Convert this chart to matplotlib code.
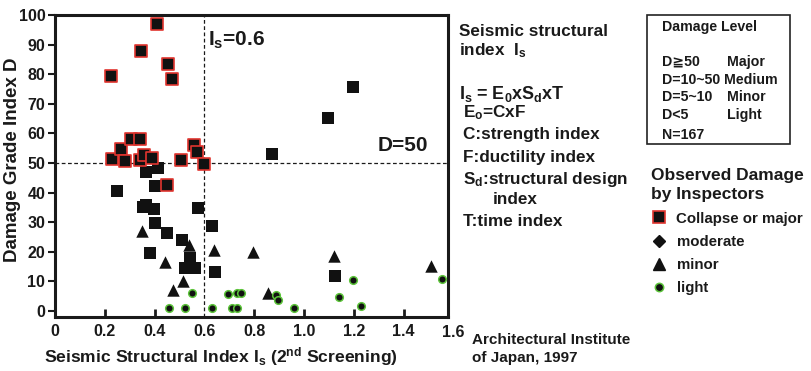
import matplotlib
matplotlib.use("Agg")
import matplotlib.pyplot as plt
from matplotlib.lines import Line2D
from matplotlib.patches import Rectangle

plt.rcParams['font.family'] = ['Liberation Sans', 'DejaVu Sans']
plt.rcParams['font.weight'] = 'bold'
plt.rcParams['mathtext.fontset'] = 'custom'
plt.rcParams['mathtext.rm'] = 'Liberation Sans:bold'
plt.rcParams['mathtext.it'] = 'Liberation Sans:bold'
plt.rcParams['mathtext.bf'] = 'Liberation Sans:bold'

####  dati  ####
# collapse or major (quadrati bordo rosso)
collapse_x = [0.225, 0.408, 0.344, 0.455, 0.469, 0.228, 0.264, 0.281, 0.304, 0.341,
              0.341, 0.357, 0.388, 0.504, 0.560, 0.572, 0.597, 0.451]
collapse_y = [79.4, 96.9, 87.8, 83.4, 78.4, 51.4, 54.7, 50.7, 58.1, 58.1,
              51.0, 52.7, 51.8, 51.0, 56.1, 53.6, 49.6, 42.6]
# moderate (quadrati neri)
moderate_x = [0.365, 0.412, 0.402, 0.250, 0.352, 0.366, 0.396, 0.575, 0.402, 0.451,
              0.509, 0.382, 0.542, 0.522, 0.562, 0.629, 0.643, 1.124, 1.196, 1.095, 0.870]
moderate_y = [47.1, 48.4, 42.3, 40.6, 35.0, 35.8, 34.6, 34.8, 29.6, 26.5,
              24.0, 19.5, 17.9, 14.6, 14.4, 28.8, 13.3, 11.9, 75.8, 65.1, 52.9]
# minor (triangoli)
minor_x = [0.351, 0.538, 0.442, 0.515, 0.472, 0.637, 0.797, 0.857, 1.122, 1.509]
minor_y = [27.0, 22.2, 16.5, 10.1, 7.0, 20.6, 20.0, 6.0, 18.7, 15.3]
# light (cerchi bordo verde)
light_x = [0.458, 0.522, 0.549, 0.629, 0.696, 0.709, 0.730, 0.732, 0.746, 0.888,
           0.894, 0.961, 1.141, 1.198, 1.229, 1.553]
light_y = [1.2, 0.9, 6.0, 1.2, 5.6, 0.9, 1.2, 6.0, 6.0, 5.4,
           3.9, 0.9, 4.8, 10.5, 1.8, 10.8]

x_ticks = [0, 0.2, 0.4, 0.6, 0.8, 1.0, 1.2, 1.4]
x_labels = ['0', '0.2', '0.4', '0.6', '0.8', '1.0', '1.2', '1.4']
y_ticks = [0, 10, 20, 30, 40, 50, 60, 70, 80, 90, 100]

level_ranges = ['D\u226750', 'D=10~50', 'D=5~10', 'D<5']
level_names = ['Major', 'Medium', 'Minor', 'Light']
legend_labels = ['Collapse or major', 'moderate', 'minor', 'light']
####	####	####	####

W, H = 811, 371
def fx(p):
    return p / W
def fy(p):
    return 1 - p / H

ink = '#1a1a1a'
red = '#e0352f'
green = '#5cc43a'

fig = plt.figure(figsize=(8.11, 3.71), dpi=100)
ax = fig.add_axes([fx(55), fy(317), (448 - 55) / W, (317 - 15) / H])

ax.scatter(moderate_x, moderate_y, marker='s', s=70, c='#111111', lw=0, zorder=3)
ax.scatter(minor_x, minor_y, marker='^', s=80, c='#111111', lw=0, zorder=3)
ax.scatter(light_x, light_y, marker='o', s=30, c='#111111', edgecolors=green, lw=1.1, zorder=3)
ax.scatter(collapse_x, collapse_y, marker='s', s=64, c='#111111', edgecolors=red, lw=1.2, zorder=4)

ax.axvline(0.6, ls=(0, (3, 2)), lw=0.9, color=ink, zorder=2)
ax.axhline(50, ls=(0, (3, 2)), lw=0.9, color=ink, zorder=2)

ax.set_xlim(0, 1.578)
ax.set_ylim(-2, 100)
ax.set_xticks(x_ticks)
ax.set_xticklabels(x_labels)
ax.set_yticks(y_ticks)
ax.tick_params(axis='x', direction='in', length=6, width=2, pad=5, labelsize=11.5, colors=ink)
ax.tick_params(axis='y', direction='out', length=5, width=1.5, pad=2, labelsize=11.5, colors=ink)
ax.xaxis.get_major_ticks()[3].tick1line.set_visible(False)
for s in ax.spines.values():
    s.set_linewidth(2.2)
    s.set_color(ink)
ax.text(1.6, -0.028, '1.6', transform=ax.get_xaxis_transform(), ha='center', va='top',
        fontsize=11.5, color=ink, clip_on=False)

ax.text(0.614, 91.5, r'I$_s$=0.6', fontsize=15, color=ink, va='center', ha='left')
ax.text(1.297, 56, 'D=50', fontsize=15, color=ink, va='center', ha='left')

fig.text(fx(13), fy(160), 'Damage Grade Index D', rotation=90, fontsize=13.5,
         color=ink, ha='center', va='center')
fig.text(fx(221), fy(357), r'Seismic Structural Index I$_s$ (2$^{nd}$ Screening)',
         fontsize=12.6, color=ink, ha='center', va='center')

# testo a destra (posizionato sulla linea di base)
t = dict(color=ink, ha='left', va='baseline', fontsize=12.3)
fig.text(fx(459), fy(36), 'Seismic structural', **t)
fig.text(fx(459), fy(55), r'index  I$_s$', **t)
fig.text(fx(459), fy(98.5), r'I$_s$ = E$_0$xS$_d$xT', color=ink, ha='left', va='baseline', fontsize=12.9)
fig.text(fx(463), fy(117.5), r'E$_o$=CxF', **t)
fig.text(fx(463), fy(138.5), 'C:strength index', **t)
fig.text(fx(463), fy(162), 'F:ductility index', **t)
fig.text(fx(463), fy(184), r'S$_d$:structural design', **t)
fig.text(fx(493), fy(204), 'index', **t)
fig.text(fx(463), fy(226), 'T:time index', **t)

# riquadro Damage Level
fig.add_artist(Rectangle((fx(647), fy(144)), (790 - 647) / W, (144 - 15) / H,
                         transform=fig.transFigure, fill=False, lw=1.2, ec='#222222'))
b = dict(color=ink, ha='left', va='center', fontsize=10.2)
fig.text(fx(662), fy(27), 'Damage Level', **b)
rows_y = [62, 80, 97, 115]
names_x = [727, 724, 727, 727]
for i in range(len(level_ranges)):
    fig.text(fx(662), fy(rows_y[i]), level_ranges[i], **b)
    fig.text(fx(names_x[i]), fy(rows_y[i]), level_names[i], **b)
fig.text(fx(662), fy(135), 'N=167', **b)

# legenda
handles = [Line2D([], [], ls='none', marker='s', ms=8, mfc='#111111', mec=red, mew=1.2),
           Line2D([], [], ls='none', marker='D', ms=6, mfc='#111111', mec='#111111'),
           Line2D([], [], ls='none', marker='^', ms=8.5, mfc='#111111', mec='#111111'),
           Line2D([], [], ls='none', marker='o', ms=6, mfc='#111111', mec=green, mew=1.1)]
leg = fig.legend(handles, legend_labels, loc='upper left',
                 bbox_to_anchor=(fx(651), fy(168)), bbox_transform=fig.transFigure,
                 frameon=False, borderpad=0, borderaxespad=0, handlelength=1.0,
                 handletextpad=0.7, labelspacing=0.62, fontsize=10.8,
                 title='Observed Damage\nby Inspectors', title_fontsize=12.5,
                 alignment='left')
for tx in leg.get_texts():
    tx.set_color(ink)
leg.get_title().set_color(ink)
leg.get_title().set_linespacing(1.35)

fig.text(fx(472), fy(340), 'Architectural Institute', fontsize=11, color=ink, ha='left', va='center')
fig.text(fx(472), fy(358), 'of Japan, 1997', fontsize=11, color=ink, ha='left', va='center')

fig.savefig('out.png', dpi=100)
